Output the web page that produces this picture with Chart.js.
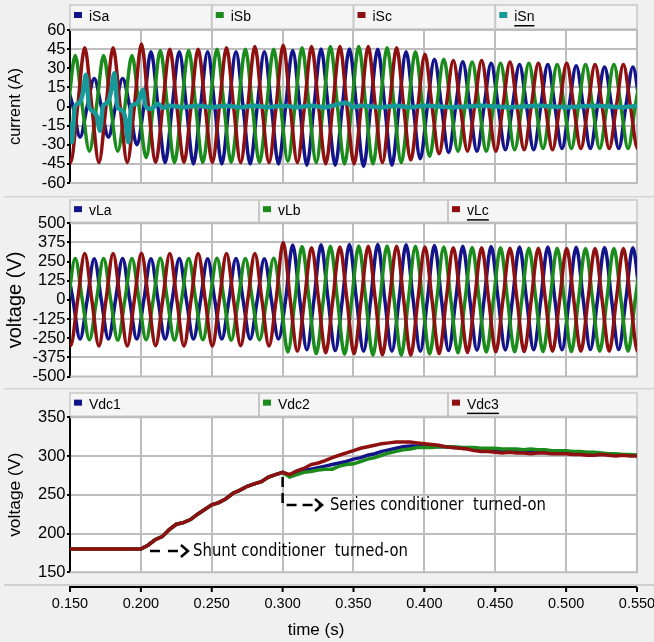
<!DOCTYPE html>
<html>
<head>
<meta charset="utf-8">
<script src="https://cdn.jsdelivr.net/npm/chart.js@4"></script>
<style>
  html, body { margin: 0; padding: 0; background: #f0f0f0; }
  #wrap { position: relative; width: 654px; height: 642px; overflow: hidden; }
  canvas { position: absolute; left: 0; }
</style>
</head>
<body>
<div id="wrap">
  <canvas id="c1" width="654" height="196" style="top:0px"></canvas>
  <canvas id="c2" width="654" height="192" style="top:196px"></canvas>
  <canvas id="c3" width="654" height="254" style="top:388px"></canvas>
</div>
<script>
// 半週期 (50 Hz)
const halfCycle = 0.01;

// 電流 iS (A) - 每半週期的峰值
const iSaStart = 0.1471;
const iSa = [20,-24,22,-24,22,-30,43,-44,43,-45,43,-45,43,-45,43,-45,44,-46,45,-46,45,-47,45,-46,43,-41,37,-36,35,-35,34,-34,33,-34,33,-33,32,-33,31,-33,31,-33];
const iSbStart = 0.1437;
const iSb = [-35,40,-35,40,-35,40,-40,44,-44,44,-44,45,-44,45,-44,45,-43,46,-44,47,-45,47,-45,46,-44,43,-39,37,-35,35,-35,34,-34,34,-33,33,-33,33,-33,33,-33,33];
const iScStart = 0.1404;
const iSc = [45,-44,46,-44,46,-44,49,-44,45,-44,45,-44,46,-44,47,-44,48,-44,47,-45,47,-45,47,-44,46,-42,41,-37,36,-35,36,-35,35,-34,34,-34,34,-33,33,-33,33,-33,33];
// 中性線電流
const iSnTime = [0.150,0.1512,0.1535,0.1565,0.1590,0.1613,0.1635,0.1665,0.1690,0.1712,0.1732,0.1765,0.1790,0.1813,0.1835,0.1865,0.1890,0.1911,0.1932,0.1965,0.1990,0.2013,0.2035,0.2070,0.2120,0.2160,0.2200,0.2300,0.2400,0.2500,0.2600,0.2700,0.2800,0.2900,0.3000,0.3100,0.3200,0.3300,0.3450,0.3500,0.3550,0.3700,0.3800,0.3900,0.4000,0.4200,0.4400,0.4600,0.4800,0.5000,0.5200,0.5400,0.5500];
const iSn = [-12,-28,0,3,10,25,0,-4,-8,-19,0,3,12,26,0,-3,-9,-28,0,2,6,13,0,-2,2,-1,0.5,-0.5,0.5,-0.5,0.5,-0.5,0.5,-0.5,0.5,-0.5,0.5,-0.5,3,-0.5,0.5,-0.5,0.5,-0.5,0.5,-0.5,0.5,-0.5,0.5,-0.5,0.5,-0.5,0.5];

// 負載電壓 vL (V)
const vLa = [268,-255,268,-255,270,-255,268,-255,270,-255,268,-255,270,-255,268,-255,358,-325,360,-330,362,-335,362,-335,360,-335,355,-330,350,-328,348,-326,346,-325,345,-325,344,-324,342,-324,340,-322];
const vLb = [-260,270,-260,270,-262,270,-260,272,-262,270,-260,272,-262,270,-260,272,-340,348,-350,350,-355,352,-360,352,-360,350,-352,345,-345,342,-340,340,-338,338,-336,338,-336,336,-335,336,-334,335];
const vLc = [300,-298,303,-300,303,-300,305,-298,303,-300,303,-300,303,-298,303,-300,375,-335,340,-345,345,-350,350,-358,350,-360,345,-350,340,-342,340,-338,338,-336,338,-335,336,-335,336,-334,335,-334,335];

// 直流電壓 Vdc (V)
const vdcTime = [0.150,0.200,0.205,0.210,0.215,0.220,0.225,0.230,0.235,0.240,0.245,0.250,0.255,0.260,0.265,0.270,0.275,0.280,0.285,0.290,0.295,0.300,
  0.305,0.310,0.315,0.320,0.325,0.330,0.335,0.340,0.345,0.350,0.355,0.360,0.365,0.370,0.375,0.380,0.385,0.390,0.395,0.400,
  0.405,0.410,0.415,0.420,0.425,0.430,0.435,0.440,0.445,0.450,0.455,0.460,0.465,0.470,0.475,0.480,0.485,0.490,0.495,0.500,
  0.505,0.510,0.515,0.520,0.525,0.530,0.535,0.540,0.545,0.550];
const vdc1 = [180,180,185,192,196,205,212,214,218,225,231,237,240,245,252,256,261,264,267,273,276,279,
  275,278,281,283,285,287,289,291,293,296,298,301,303,306,308,310,312,313,313,313,
  313,312,312,311,311,310,309,309,308,308,307,307,307,306,306,306,306,305,305,305,
  304,304,303,303,303,302,302,301,301,301];
const vdc2 = [180,180,185,192,196,205,212,214,218,225,231,237,240,245,252,256,261,264,267,273,276,279,
  273,276,279,280,282,283,283,287,289,290,293,296,298,301,304,306,308,309,311,311,
  311,312,312,312,311,311,311,310,310,310,309,309,309,308,309,308,308,307,307,307,
  306,306,305,305,304,303,303,302,302,301];
const vdc3 = [180,180,185,192,196,205,212,214,218,225,231,237,240,245,252,256,261,264,267,273,276,279,
  276,281,284,289,291,294,298,301,304,307,310,312,314,316,317,318,318,318,317,316,
  315,314,312,311,310,309,307,306,306,305,304,305,304,304,303,304,304,303,303,303,
  302,302,301,301,302,301,300,301,300,300];

// 刻度
const timeTicks = [0.15, 0.2, 0.25, 0.3, 0.35, 0.4, 0.45, 0.5, 0.55];
const currentTicks = [-60, -45, -30, -15, 0, 15, 30, 45, 60];
const voltTicks = [-500, -375, -250, -125, 0, 125, 250, 375, 500];
const vdcTicks = [150, 200, 250, 300, 350];

const BLUE = '#14148a';
const GREEN = '#1b8c1b';
const RED = '#8e1010';
const TEAL = '#17999a';
const GRID = '#bdbdbd';
const FONT = 'Liberation Sans, Arial, sans-serif';
const tickFont = { family: FONT, size: 16.5 };

// 峰值 + 過零點
function wave(start, peaks) {
    const pts = [];
    peaks.forEach((v, k) => {
        const t = start + k * halfCycle;
        pts.push({ x: t, y: v });
        if (k < peaks.length - 1) pts.push({ x: t + halfCycle / 2, y: 0 });
    });
    return pts;
}

function pairs(xs, ys) {
    return xs.map((x, i) => ({ x: x, y: ys[i] }));
}

function line(data, color, order, width, smooth) {
    return {
        data: data,
        borderColor: color,
        backgroundColor: color,
        borderWidth: width,
        pointRadius: 0,
        order: order,
        cubicInterpolationMode: smooth ? 'monotone' : 'default',
        tension: 0
    };
}

// 面板裝飾: 白底, 圖例列, 外框, y 軸標題
const panelDecor = {
    id: 'panelDecor',
    beforeDraw(chart, args, o) {
        const { ctx, chartArea: a } = chart;
        ctx.save();
        // 面板分隔線
        if (o.sepTop) {
            ctx.strokeStyle = '#d4d4d4';
            ctx.lineWidth = 1.5;
            ctx.beginPath();
            ctx.moveTo(4, 0.75);
            ctx.lineTo(654, 0.75);
            ctx.stroke();
        }
        ctx.fillStyle = '#ffffff';
        ctx.fillRect(a.left, a.top, a.right - a.left, a.bottom - a.top);

        // 圖例列
        const y0 = o.barTop, y1 = a.top - 1;
        ctx.fillStyle = '#f5f5f5';
        ctx.fillRect(a.left, y0, a.right - a.left, y1 - y0);
        ctx.strokeStyle = '#c6c6c6';
        ctx.lineWidth = 1.5;
        ctx.strokeRect(a.left, y0, a.right - a.left, y1 - y0);
        const n = o.items.length;
        const segW = (a.right - a.left) / n;
        ctx.font = '14px ' + FONT;
        ctx.textBaseline = 'middle';
        o.items.forEach((it, i) => {
            const sx = a.left + i * segW;
            if (i > 0) {
                ctx.strokeStyle = '#c6c6c6';
                ctx.lineWidth = 2;
                ctx.beginPath();
                ctx.moveTo(sx, y0);
                ctx.lineTo(sx, y1);
                ctx.stroke();
            }
            const cy = (y0 + y1) / 2;
            ctx.fillStyle = it.color;
            ctx.fillRect(sx + 4, cy - 5, 8, 6);
            ctx.fillStyle = '#000';
            ctx.fillText(it.label, sx + 19, cy);
            if (i === n - 1) {
                const w = ctx.measureText(it.label).width;
                ctx.fillRect(sx + 19, cy + 8, w, 1.5);
            }
        });

        // y 軸標題
        ctx.save();
        ctx.translate(15.5, (a.top + a.bottom) / 2);
        ctx.rotate(-Math.PI / 2);
        ctx.textAlign = 'center';
        ctx.textBaseline = 'middle';
        ctx.font = o.titleSize + 'px ' + FONT;
        ctx.fillStyle = '#000';
        ctx.fillText(o.title, 0, 0);
        ctx.restore();
        ctx.restore();
    },
    beforeDatasetsDraw(chart) {
        const { ctx, chartArea: a } = chart;
        ctx.save();
        ctx.strokeStyle = GRID;
        ctx.lineWidth = 2;
        ctx.beginPath();
        ctx.moveTo(a.left, a.top);
        ctx.lineTo(a.right, a.top);
        ctx.lineTo(a.right, a.bottom);
        ctx.lineTo(a.left, a.bottom);
        ctx.stroke();
        ctx.restore();
    }
};

function scales(ymin, ymax, yTicks, gridVals) {
    return {
        x: {
            type: 'linear', min: 0.15, max: 0.55,
            afterBuildTicks: s => { s.ticks = timeTicks.map(v => ({ value: v })); },
            ticks: { display: false },
            grid: { color: GRID, lineWidth: 2, drawTicks: false },
            border: { display: false }
        },
        y: {
            min: ymin, max: ymax,
            afterBuildTicks: s => { s.ticks = yTicks.map(v => ({ value: v })); },
            ticks: { font: tickFont, color: '#000', padding: 1.5, autoSkip: false },
            grid: {
                color: c => gridVals.includes(c.tick.value) ? GRID : 'rgba(0,0,0,0)',
                lineWidth: 2, tickColor: '#000', tickLength: 3
            },
            border: { color: '#000', width: 2 },
            afterFit: s => { s.width = 70; }
        }
    };
}

function makeChart(id, datasets, sc, pad, decor, extra) {
    return new Chart(document.getElementById(id), {
        type: 'line',
        data: { datasets: datasets },
        options: {
            responsive: false,
            animation: false,
            parsing: false,
            layout: { padding: pad },
            plugins: { legend: { display: false }, tooltip: { enabled: false }, panelDecor: decor },
            scales: sc
        },
        plugins: [panelDecor].concat(extra || [])
    });
}

// 面板 1: 電源電流
makeChart('c1', [
    line(wave(iSaStart, iSa), BLUE, 3, 3.5, true),
    line(wave(iSbStart, iSb), GREEN, 2, 3.5, true),
    line(wave(iScStart, iSc), RED, 1, 3.5, true),
    line(pairs(iSnTime, iSn), TEAL, 0, 4.5, true)
], scales(-60, 60, currentTicks, [45, 15, -15, -45]),
   { top: 30, bottom: 13, left: 0, right: 17 },
   { barTop: 5, title: 'current (A)', titleSize: 16.3,
     items: [{ label: 'iSa', color: BLUE }, { label: 'iSb', color: GREEN }, { label: 'iSc', color: RED }, { label: 'iSn', color: TEAL }] });

// 面板 2: 負載電壓
makeChart('c2', [
    line(wave(iSaStart, vLa), BLUE, 3, 3.5, true),
    line(wave(iSbStart, vLb), GREEN, 2, 3.5, true),
    line(wave(iScStart, vLc), RED, 1, 3.5, true)
], scales(-500, 500, voltTicks, [375, 125, -125, -375]),
   { top: 27.3, bottom: 9.7, left: 0, right: 17 },
   { barTop: 4, sepTop: true, title: 'voltage (V)', titleSize: 20,
     items: [{ label: 'vLa', color: BLUE }, { label: 'vLb', color: GREEN }, { label: 'vLc', color: RED }] });

// 寬度固定的文字
function fitText(ctx, text, x, y, width) {
    const w = ctx.measureText(text).width;
    ctx.save();
    ctx.translate(x, y);
    ctx.scale(width / w, 1);
    ctx.fillText(text, 0, 0);
    ctx.restore();
}

// 面板 3: 直流電壓 + 時間軸 + 註解
const timeAxis = {
    id: 'timeAxis',
    afterDraw(chart) {
        const { ctx, chartArea: a } = chart;
        const xs = chart.scales.x;
        const ay = 199;
        ctx.save();
        ctx.strokeStyle = '#cfcfcf';
        ctx.lineWidth = 2;
        ctx.beginPath();
        ctx.moveTo(4, ay - 2);
        ctx.lineTo(654, ay - 2);
        ctx.stroke();
        ctx.strokeStyle = '#000';
        ctx.lineWidth = 2;
        ctx.beginPath();
        ctx.moveTo(a.left - 1, ay);
        ctx.lineTo(a.right, ay);
        xs.ticks.forEach(t => {
            const px = xs.getPixelForValue(t.value);
            ctx.moveTo(px, ay);
            ctx.lineTo(px, ay + 5);
        });
        ctx.stroke();
        ctx.fillStyle = '#000';
        ctx.font = '14.5px ' + FONT;
        ctx.textAlign = 'center';
        ctx.textBaseline = 'middle';
        xs.ticks.forEach(t => {
            ctx.fillText(t.value.toFixed(3), xs.getPixelForValue(t.value), ay + 17);
        });
        ctx.font = '17px ' + FONT;
        ctx.fillText('time (s)', 316, 242);
        ctx.restore();
    },
    afterDatasetsDraw(chart) {
        const { ctx } = chart;
        const xs = chart.scales.x, ys = chart.scales.y;
        const X = v => xs.getPixelForValue(v), Y = v => ys.getPixelForValue(v);
        ctx.save();
        ctx.strokeStyle = '#000';
        ctx.fillStyle = '#000';
        ctx.lineWidth = 2.5;
        // Shunt conditioner
        let y = Y(177.5);
        ctx.setLineDash([10, 8]);
        ctx.beginPath();
        ctx.moveTo(X(0.2064), y);
        ctx.lineTo(X(0.2332), y);
        ctx.stroke();
        ctx.setLineDash([]);
        let hx = X(0.2332);
        ctx.beginPath();
        ctx.moveTo(hx - 7, y - 6);
        ctx.lineTo(hx, y);
        ctx.lineTo(hx - 7, y + 6);
        ctx.stroke();
        // Series conditioner
        const vx = X(0.3);
        y = Y(236.8);
        ctx.setLineDash([10, 6]);
        ctx.beginPath();
        ctx.moveTo(vx, Y(273));
        ctx.lineTo(vx, y);
        ctx.lineTo(X(0.3278), y);
        ctx.stroke();
        ctx.setLineDash([]);
        hx = X(0.3278);
        ctx.beginPath();
        ctx.moveTo(hx - 7, y - 6);
        ctx.lineTo(hx, y);
        ctx.lineTo(hx - 7, y + 6);
        ctx.stroke();

        ctx.font = '18px DejaVu Sans Condensed, DejaVu Sans, sans-serif';
        ctx.textBaseline = 'middle';
        fitText(ctx, 'Shunt conditioner  turned-on', X(0.2368), Y(177.5), 215);
        fitText(ctx, 'Series conditioner  turned-on', X(0.3334), Y(236.8), 216);
        ctx.restore();
    }
};

makeChart('c3', [
    line(pairs(vdcTime, vdc1), BLUE, 2, 3.5, false),
    line(pairs(vdcTime, vdc2), GREEN, 1, 3.5, false),
    line(pairs(vdcTime, vdc3), RED, 0, 3.5, false)
], scales(150, 350, vdcTicks, [200, 250, 300]),
   { top: 29.3, bottom: 69.7, left: 0, right: 17 },
   { barTop: 5, sepTop: true, title: 'voltage (V)', titleSize: 17.4,
     items: [{ label: 'Vdc1', color: BLUE }, { label: 'Vdc2', color: GREEN }, { label: 'Vdc3', color: RED }] },
   [timeAxis]);
</script>
</body>
</html>
